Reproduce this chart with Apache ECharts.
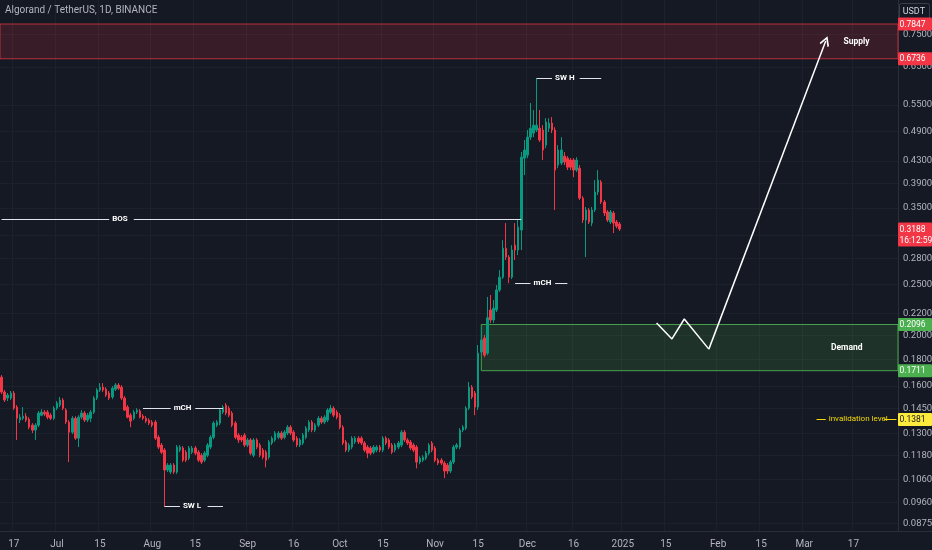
<!DOCTYPE html>
<html>
<head>
<meta charset="utf-8">
<script src="https://cdn.jsdelivr.net/npm/echarts@6/dist/echarts.min.js"></script>
<style>
html,body{margin:0;padding:0;background:#151924;}
#chart{width:932px;height:550px;}
</style>
</head>
<body>
<div id="chart"></div>
<script>
// ---------------- data ----------------
const chartTitle = 'Algorand / TetherUS, 1D, BINANCE';
const quoteCurrency = 'USDT';
const firstDay = '2024-06-13';
const lastDay = '2025-03-31';

const opens = [
.1663,.1558,.1517,.1517,.1551,.1458,.1377,.1388,.1401,.1382,
.1347,.1318,.1347,.1407,.1426,.1426,.1407,.1388,.1451,.1471,
.1504,.1439,.1365,.1306,.1388,.1272,.1395,.1420,.1377,.1388,
.1426,.1517,.1572,.1591,.1577,.1551,.1524,.1577,.1606,.1591,
.1517,.1458,.1407,.1388,.1426,.1433,.1401,.1388,.1377,.1365,
.1365,.1277,.1234,.1207,.1106,.1096,.1130,.1096,.1207,.1218,
.1196,.1165,.1196,.1218,.1196,.1180,.1155,.1180,.1223,.1277,
.1347,.1359,.1426,.1471,.1451,.1420,.1359,.1289,.1277,.1289,
.1234,.1262,.1180,.1262,.1234,.1207,.1196,.1170,.1245,.1262,
.1277,.1301,.1277,.1301,.1335,.1306,.1272,.1234,.1245,.1277,
.1318,.1365,.1318,.1347,.1388,.1365,.1377,.1426,.1451,.1426,
.1407,.1335,.1251,.1207,.1223,.1251,.1272,.1272,.1245,.1223,
.1218,.1196,.1207,.1223,.1207,.1272,.1262,.1234,.1207,.1223,
.1234,.1306,.1262,.1251,.1234,.1223,.1145,.1155,.1165,.1191,
.1245,.1218,.1155,.1155,.1140,.1130,.1101,.1145,.1223,.1223,
.1318,.1329,.1451,.1591,.1551,.1458,.1857,.1974,.1848,.2234,
.2138,.2234,.2439,.2580,.2930,.2818,.2580,.2970,.2907,.3174,
.4353,.4412,.4773,.4860,.4925,.4964,.4925,.4610,.4964,.5078,
.4925,.4222,.4260,.4392,.4353,.4317,.4317,.4131,.4165,.3651,
.3317,.3466,.3273,.3466,.3751,.3919,.3590,.3436,.3288,.3420,
.3288,.3259
];
const closes = [
.1558,.1504,.1537,.1551,.1451,.1388,.1395,.1401,.1377,.1335,
.1318,.1347,.1420,.1426,.1414,.1395,.1388,.1451,.1484,.1504,
.1451,.1365,.1306,.1388,.1272,.1395,.1420,.1377,.1407,.1426,
.1517,.1572,.1591,.1572,.1537,.1517,.1584,.1606,.1584,.1517,
.1439,.1395,.1371,.1426,.1439,.1395,.1388,.1371,.1359,.1347,
.1272,.1223,.1196,.1106,.1130,.1130,.1096,.1223,.1223,.1155,
.1155,.1218,.1218,.1191,.1155,.1145,.1191,.1234,.1277,.1359,
.1365,.1439,.1458,.1420,.1407,.1347,.1277,.1262,.1262,.1234,
.1262,.1191,.1262,.1223,.1180,.1170,.1155,.1251,.1272,.1301,
.1301,.1272,.1306,.1335,.1301,.1262,.1234,.1262,.1289,.1329,
.1365,.1318,.1347,.1388,.1365,.1395,.1439,.1451,.1407,.1395,
.1335,.1245,.1207,.1234,.1272,.1272,.1251,.1245,.1207,.1191,
.1191,.1223,.1223,.1207,.1272,.1245,.1223,.1196,.1234,.1245,
.1306,.1262,.1245,.1218,.1207,.1145,.1165,.1170,.1191,.1234,
.1207,.1155,.1140,.1140,.1101,.1101,.1145,.1223,.1234,.1318,
.1335,.1451,.1591,.1524,.1458,.1848,.1958,.1832,.2159,.2138,
.2252,.2439,.2580,.2930,.2818,.2580,.2907,.2907,.3215,.4372,
.4511,.4773,.4964,.5032,.5032,.4714,.4511,.5101,.5078,.4925,
.4131,.4511,.4511,.4279,.4184,.4184,.4131,.4317,.3651,.3317,
.3466,.3288,.3466,.3751,.3954,.3590,.3420,.3317,.3436,.3273,
.3229,.3188
];
const lows = [
.1544,.1491,.1497,.1504,.1439,.1262,.1359,.1377,.1365,.1323,
.1301,.1262,.1335,.1401,.1401,.1382,.1377,.1377,.1439,.1458,
.1439,.1353,.1145,.1295,.1262,.1223,.1382,.1365,.1365,.1365,
.1414,.1504,.1558,.1558,.1524,.1504,.1510,.1565,.1572,.1504,
.1433,.1388,.1335,.1377,.1414,.1388,.1377,.1359,.1347,.1335,
.1262,.1212,.1186,.0940,.1096,.1087,.1087,.1087,.1196,.1145,
.1145,.1155,.1186,.1180,.1145,.1135,.1145,.1170,.1212,.1266,
.1335,.1347,.1414,.1407,.1395,.1335,.1266,.1245,.1251,.1223,
.1223,.1180,.1170,.1212,.1170,.1159,.1119,.1159,.1234,.1251,
.1266,.1262,.1266,.1289,.1289,.1251,.1223,.1223,.1234,.1266,
.1306,.1306,.1306,.1335,.1353,.1353,.1365,.1414,.1395,.1382,
.1323,.1234,.1196,.1196,.1212,.1240,.1240,.1234,.1196,.1165,
.1180,.1186,.1196,.1196,.1196,.1234,.1212,.1186,.1196,.1212,
.1223,.1251,.1234,.1207,.1196,.1114,.1135,.1145,.1155,.1180,
.1196,.1145,.1130,.1130,.1067,.1087,.1091,.1135,.1212,.1212,
.1306,.1318,.1439,.1510,.1407,.1439,.1832,.1815,.1832,.2110,
.2110,.2214,.2418,.2559,.2782,.2514,.2559,.2782,.2843,.2907,
.4040,.4353,.4714,.4773,.4882,.4673,.4317,.4548,.4882,.4860,
.3466,.4165,.4222,.4222,.4131,.4131,.4004,.4095,.3622,.3273,
.2818,.3259,.3229,.3436,.3701,.3558,.3375,.3288,.3259,.3132,
.3200,.3160
];
const highs = [
.1678,.1572,.1551,.1565,.1565,.1471,.1414,.1458,.1420,.1395,
.1359,.1359,.1433,.1445,.1439,.1439,.1420,.1464,.1497,.1524,
.1517,.1451,.1377,.1401,.1401,.1407,.1439,.1433,.1420,.1439,
.1530,.1584,.1620,.1620,.1591,.1565,.1599,.1620,.1620,.1606,
.1530,.1471,.1420,.1439,.1451,.1445,.1414,.1401,.1388,.1377,
.1377,.1289,.1245,.1218,.1140,.1140,.1140,.1234,.1234,.1229,
.1207,.1229,.1229,.1229,.1207,.1191,.1202,.1245,.1289,.1371,
.1377,.1451,.1471,.1484,.1464,.1433,.1371,.1301,.1289,.1301,
.1272,.1272,.1272,.1272,.1245,.1218,.1207,.1262,.1283,.1312,
.1312,.1312,.1318,.1347,.1347,.1318,.1283,.1272,.1301,.1341,
.1377,.1377,.1359,.1401,.1401,.1407,.1451,.1471,.1464,.1439,
.1420,.1347,.1262,.1245,.1283,.1283,.1283,.1283,.1256,.1234,
.1229,.1234,.1234,.1234,.1283,.1283,.1272,.1245,.1245,.1256,
.1318,.1318,.1272,.1262,.1245,.1234,.1175,.1180,.1202,.1245,
.1256,.1229,.1165,.1165,.1150,.1140,.1155,.1234,.1245,.1329,
.1347,.1464,.1628,.1606,.1565,.1915,.2073,.2001,.2366,.2387,
.2334,.2492,.2662,.3037,.3273,.2843,.2970,.3273,.3317,.4471,
.4714,.4925,.5546,.5378,.6190,.5378,.5032,.5189,.5189,.5212,
.4987,.4610,.4773,.4471,.4392,.4353,.4353,.4372,.4222,.3684,
.3511,.3495,.3511,.3954,.4131,.3954,.3622,.3466,.3466,.3451,
.3317,.3288
];

const xTickDates  = ['2024-06-17','2024-07-01','2024-07-15','2024-08-01','2024-08-15','2024-09-01','2024-09-16','2024-10-01','2024-10-15','2024-11-01','2024-11-15','2024-12-01','2024-12-16','2025-01-01','2025-01-15','2025-02-01','2025-02-15','2025-03-01','2025-03-17'];
const xTickLabels = ['17','Jul','15','Aug','15','Sep','16','Oct','15','Nov','15','Dec','16','2025','15','Feb','15','Mar','17'];

const yGridValues  = [0.0875,0.096,0.106,0.118,0.13,0.145,0.16,0.18,0.2,0.22,0.25,0.28,0.31,0.35,0.39,0.43,0.49,0.55,0.65,0.75];
const yLabelValues = [0.0875,0.096,0.106,0.118,0.13,0.145,0.16,0.18,0.2,0.22,0.25,0.28,0.35,0.39,0.43,0.49,0.55,0.65,0.75];
const yRange = [0.0846, 0.872];

const supplyZone = [0.7847, 0.6736];
const demandZone = [0.2096, 0.1711];
const demandStart = '2024-11-16';
const invalidationLevel = 0.1381;
const lastPrice = 0.3188;
const countdown = '16:12:59';

// structure lines: text, price, from, gapFrom (text start), gapTo, to
const structureLines = [
  {text:'BOS',  price:0.3330, from:'2024-06-13', gapFrom:'2024-07-18', gapTo:'2024-07-26', to:'2024-11-29'},
  {text:'mCH',  price:0.1451, from:'2024-07-29', gapFrom:'2024-08-07', gapTo:'2024-08-15', to:'2024-08-24'},
  {text:'SW L', price:0.0943, from:'2024-08-05', gapFrom:'2024-08-10', gapTo:'2024-08-19', to:'2024-08-24'},
  {text:'mCH',  price:0.2510, from:'2024-11-27', gapFrom:'2024-12-02', gapTo:'2024-12-10', to:'2024-12-14'},
  {text:'SW H', price:0.6190, from:'2024-12-04', gapFrom:'2024-12-09', gapTo:'2024-12-18', to:'2024-12-25'}
];
const invalidationLine = {text:'invalidation level', price:invalidationLevel, from:'2025-03-05', gapFrom:'2025-03-08', gapTo:'2025-03-27', to:'2025-03-31'};

const projectionDates  = ['2025-01-12','2025-01-17','2025-01-21','2025-01-29','2025-03-08'];
const projectionPrices = [0.2110, 0.1967, 0.2147, 0.1881, 0.7286];

// ---------------- build ----------------
const BG = '#151924';
const UP = '#089981', DOWN = '#f23645';
const LINE_W = '#e0e3eb';
const FONT = 'Roboto, "Noto Sans", sans-serif';

const categories = [];
(function () {
  const d = new Date(firstDay + 'T00:00:00Z');
  const end = new Date(lastDay + 'T00:00:00Z');
  while (d <= end) {
    categories.push(d.toISOString().slice(0, 10));
    d.setUTCDate(d.getUTCDate() + 1);
  }
})();
const tickSet = new Set(xTickDates);
const tickLabelMap = {};
xTickDates.forEach((d, i) => { tickLabelMap[d] = xTickLabels[i]; });

const candleData = opens.map((o, i) => [o, closes[i], lows[i], highs[i]]);

function segmentPair(line, color, textColor, fontSize, bold) {
  const ls = {color: color, width: 1, type: 'solid'};
  return [
    [
      {coord: [line.from, line.price], lineStyle: ls,
       label: {show: true, position: 'end', distance: 3, formatter: line.text, color: textColor,
               fontSize: fontSize, fontWeight: bold ? 'bold' : 'normal', fontFamily: FONT}},
      {coord: [line.gapFrom, line.price]}
    ],
    [
      {coord: [line.gapTo, line.price], lineStyle: ls, label: {show: false}},
      {coord: [line.to, line.price]}
    ]
  ];
}

let markLines = [];
structureLines.forEach(l => { markLines = markLines.concat(segmentPair(l, LINE_W, '#ffffff', 8, true)); });
markLines = markLines.concat(segmentPair(invalidationLine, '#f5d90a', '#f5d90a', 8, false));

const priceTags = [
  {value: supplyZone[0], bg: DOWN, color: '#ffffff', text: supplyZone[0].toFixed(4)},
  {value: supplyZone[1], bg: DOWN, color: '#ffffff', text: supplyZone[1].toFixed(4)},
  {value: lastPrice, bg: DOWN, color: '#ffffff', text: lastPrice.toFixed(4) + '\n' + countdown},
  {value: demandZone[0], bg: '#4caf50', color: '#ffffff', text: demandZone[0].toFixed(4)},
  {value: demandZone[1], bg: '#4caf50', color: '#ffffff', text: demandZone[1].toFixed(4)},
  {value: invalidationLevel, bg: '#ffeb3b', color: '#131722', text: invalidationLevel.toFixed(4)}
];

const projection = projectionDates.map((d, i) => [d, projectionPrices[i]]);
const nP = projection.length;

const chart = echarts.init(document.getElementById('chart'), null, {renderer: 'canvas'});
chart.setOption({
  backgroundColor: BG,
  animation: false,
  textStyle: {fontFamily: FONT},
  grid: {left: 0, right: 34, top: 0, bottom: 19, containLabel: false, outerBoundsMode: 'none'},
  xAxis: {
    type: 'category',
    data: categories,
    boundaryGap: true,
    axisLine: {show: true, lineStyle: {color: '#2a2e39'}},
    axisTick: {show: false},
    axisLabel: {
      interval: (i, v) => tickSet.has(v),
      formatter: v => tickLabelMap[v] || '',
      color: '#b2b5be', fontSize: 10, margin: 8, fontFamily: FONT
    },
    splitLine: {show: true, interval: (i, v) => tickSet.has(v), lineStyle: {color: '#1d212c', width: 1}}
  },
  yAxis: {
    type: 'log',
    logBase: 10,
    position: 'right',
    min: yRange[0],
    max: yRange[1],
    axisLine: {show: true, lineStyle: {color: '#2a2e39'}},
    axisTick: {show: false, customValues: yGridValues},
    axisLabel: {
      customValues: yLabelValues,
      formatter: v => Number(v).toFixed(4),
      color: '#b2b5be', fontSize: 9.5, margin: 5, fontFamily: FONT
    },
    splitLine: {show: true, lineStyle: {color: '#1d212c', width: 1}}
  },
  series: [
    {
      type: 'candlestick',
      data: candleData,
      barWidth: 2,
      itemStyle: {color: UP, color0: DOWN, borderColor: UP, borderColor0: DOWN, borderWidth: 1},
      markArea: {
        silent: true,
        data: [
          [
            {yAxis: supplyZone[0],
             itemStyle: {color: 'rgba(242,54,69,0.16)', borderColor: 'rgba(242,54,69,0.7)', borderWidth: 1},
             label: {show: true, position: 'insideRight', distance: 0, padding: [0, 29, 0, 0],
                     formatter: 'Supply', color: '#ffffff', fontSize: 8.5, fontWeight: 'bold', fontFamily: FONT}},
            {yAxis: supplyZone[1]}
          ],
          [
            {xAxis: demandStart, yAxis: demandZone[0],
             itemStyle: {color: 'rgba(76,175,80,0.17)', borderColor: 'rgba(76,175,80,0.9)', borderWidth: 1},
             label: {show: true, position: 'insideRight', distance: 0, padding: [6, 36, 0, 0],
                     formatter: 'Demand', color: '#ffffff', fontSize: 8.5, fontWeight: 'bold', fontFamily: FONT}},
            {yAxis: demandZone[1]}
          ]
        ]
      },
      markLine: {
        silent: true,
        symbol: ['none', 'none'],
        animation: false,
        data: markLines
      }
    },
    {
      type: 'line',
      data: projection.slice(0, nP - 1),
      symbol: 'none',
      silent: true,
      lineStyle: {color: '#ffffff', width: 1.5},
      markLine: {
        silent: true,
        animation: false,
        symbol: ['none', 'path://M5 0 L10 8.5 L8.7 9.6 L5 3.2 L1.3 9.6 L0 8.5 Z'],
        symbolSize: [10, 10],
        lineStyle: {color: '#ffffff', width: 1.5, type: 'solid'},
        label: {show: false},
        data: [[{coord: projection[nP - 2]}, {coord: projection[nP - 1]}]]
      }
    }
  ]
});

// price tags on the right scale, positioned through the axis scale
const graphics = [
  {type: 'text', left: 5, top: 5, z: 100,
   style: {text: chartTitle, fill: '#b2b5be', fontSize: 10, fontFamily: FONT}},
  {type: 'rect', right: 2, top: 3, z: 100,
   shape: {width: 30, height: 17, r: 2},
   style: {fill: BG, stroke: '#3a3e4a', lineWidth: 1}},
  {type: 'text', right: 7, top: 7, z: 101,
   style: {text: quoteCurrency, fill: '#d1d4dc', fontSize: 9, fontFamily: FONT}},
  {type: 'rect', left: 898, top: 531, z: 50, silent: true,
   shape: {width: 34, height: 1}, style: {fill: '#2a2e39'}}
];
priceTags.forEach(t => {
  const y = chart.convertToPixel({yAxisIndex: 0}, t.value);
  const nLines = t.text.split('\n').length;
  const h = nLines === 1 ? 13 : 24;
  graphics.push({type: 'rect', left: 898, top: y - 6.5, z: 120, silent: true,
    shape: {width: 34, height: h, r: 1}, style: {fill: t.bg}});
  graphics.push({type: 'text', left: 899.5, top: y - 5, z: 121, silent: true,
    style: {text: t.text, fill: t.color, fontSize: 8.5, lineHeight: 11, fontFamily: FONT}});
});
chart.setOption({graphic: graphics});
</script>
</body>
</html>
